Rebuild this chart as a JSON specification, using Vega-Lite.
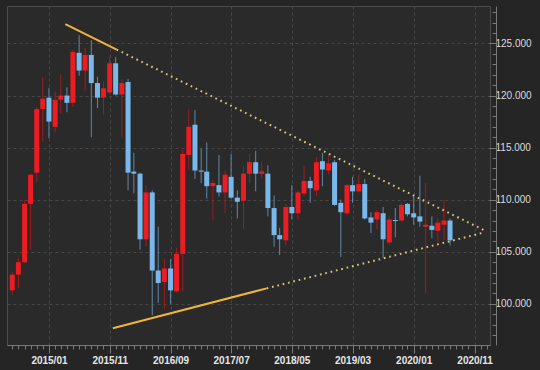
{
  "$schema": "https://vega.github.io/schema/vega-lite/v6.json",
  "width": 483,
  "height": 339,
  "autosize": {"type": "none"},
  "padding": {"left": 7, "top": 6, "right": 50, "bottom": 25},
  "background": "#252525",
  "config": {
    "view": {"fill": "#2a2a2a", "stroke": "#4c4c4c"},
    "axis": {"title": null, "labelFont": "Liberation Sans", "labelFontSize": 10, "labelColor": "#dcdcdc", "domainColor": "#7a7a7a", "tickColor": "#7a7a7a", "gridColor": "#474747", "gridDash": [3, 3], "labelOverlap": false, "labelFlush": false}
  },
  "datasets": {
    "candles": [
      {"d": "2014-07-01", "o": 101.3, "h": 103.1, "l": 100.9, "c": 102.8},
      {"d": "2014-08-01", "o": 102.8, "h": 104.4, "l": 101.5, "c": 104.0},
      {"d": "2014-09-01", "o": 104.0, "h": 110.0, "l": 103.9, "c": 109.6},
      {"d": "2014-10-01", "o": 109.6, "h": 112.5, "l": 105.2, "c": 112.4},
      {"d": "2014-11-01", "o": 112.6, "h": 118.9, "l": 111.7, "c": 118.7},
      {"d": "2014-12-01", "o": 118.7, "h": 121.8, "l": 115.6, "c": 119.7},
      {"d": "2015-01-01", "o": 119.8, "h": 120.7, "l": 115.9, "c": 117.5},
      {"d": "2015-02-01", "o": 117.0, "h": 120.4, "l": 116.5, "c": 119.6},
      {"d": "2015-03-01", "o": 119.6, "h": 122.0, "l": 118.3, "c": 120.0},
      {"d": "2015-04-01", "o": 120.0, "h": 120.8, "l": 118.4, "c": 119.3},
      {"d": "2015-05-01", "o": 119.3, "h": 124.4, "l": 118.9, "c": 124.2},
      {"d": "2015-06-01", "o": 124.1, "h": 125.8, "l": 121.9, "c": 122.4},
      {"d": "2015-07-01", "o": 122.4, "h": 124.6, "l": 120.4, "c": 123.9},
      {"d": "2015-08-01", "o": 123.9, "h": 125.3, "l": 116.0, "c": 121.2},
      {"d": "2015-09-01", "o": 121.2, "h": 121.8, "l": 118.8, "c": 119.8},
      {"d": "2015-10-01", "o": 119.8, "h": 121.4, "l": 118.1, "c": 120.7},
      {"d": "2015-11-01", "o": 120.3, "h": 123.7, "l": 120.1, "c": 123.1},
      {"d": "2015-12-01", "o": 123.1, "h": 123.7, "l": 120.0, "c": 120.1},
      {"d": "2016-01-01", "o": 120.1, "h": 121.6, "l": 115.9, "c": 121.2},
      {"d": "2016-02-01", "o": 121.3, "h": 121.6, "l": 110.9, "c": 112.6},
      {"d": "2016-03-01", "o": 112.7, "h": 114.5, "l": 110.6, "c": 112.5},
      {"d": "2016-04-01", "o": 112.5, "h": 112.6, "l": 105.2, "c": 106.2},
      {"d": "2016-05-01", "o": 106.2, "h": 111.4, "l": 105.5, "c": 110.7},
      {"d": "2016-06-01", "o": 110.7, "h": 110.9, "l": 98.9, "c": 103.2},
      {"d": "2016-07-01", "o": 103.2, "h": 107.4, "l": 100.1, "c": 102.0},
      {"d": "2016-08-01", "o": 102.1, "h": 104.3, "l": 99.5, "c": 103.4},
      {"d": "2016-09-01", "o": 103.4, "h": 104.3, "l": 100.0, "c": 101.3},
      {"d": "2016-10-01", "o": 101.2, "h": 105.4, "l": 101.1, "c": 104.8},
      {"d": "2016-11-01", "o": 104.8, "h": 114.8, "l": 101.2, "c": 114.4},
      {"d": "2016-12-01", "o": 114.3, "h": 118.7, "l": 112.8, "c": 117.0},
      {"d": "2017-01-01", "o": 117.2, "h": 118.6, "l": 112.0, "c": 112.8},
      {"d": "2017-02-01", "o": 112.8, "h": 114.9, "l": 111.6, "c": 112.7},
      {"d": "2017-03-01", "o": 112.7, "h": 115.5, "l": 110.1, "c": 111.3},
      {"d": "2017-04-01", "o": 111.3, "h": 111.9, "l": 108.0, "c": 111.6},
      {"d": "2017-05-01", "o": 111.4, "h": 114.3, "l": 110.3, "c": 110.7},
      {"d": "2017-06-01", "o": 110.7, "h": 112.8, "l": 108.7, "c": 112.4},
      {"d": "2017-07-01", "o": 112.2, "h": 114.4, "l": 110.1, "c": 110.2},
      {"d": "2017-08-01", "o": 110.2, "h": 110.9, "l": 108.2, "c": 109.8},
      {"d": "2017-09-01", "o": 109.9, "h": 113.2, "l": 107.2, "c": 112.5},
      {"d": "2017-10-01", "o": 112.5, "h": 114.4, "l": 111.6, "c": 113.6},
      {"d": "2017-11-01", "o": 113.6, "h": 114.7, "l": 110.8, "c": 112.5},
      {"d": "2017-12-01", "o": 112.5, "h": 113.6, "l": 112.0, "c": 112.7},
      {"d": "2018-01-01", "o": 112.5, "h": 113.3, "l": 108.4, "c": 109.2},
      {"d": "2018-02-01", "o": 109.2, "h": 110.4, "l": 105.5, "c": 106.6},
      {"d": "2018-03-01", "o": 106.6, "h": 107.3, "l": 104.7, "c": 106.2},
      {"d": "2018-04-01", "o": 106.1, "h": 109.6, "l": 105.6, "c": 109.3},
      {"d": "2018-05-01", "o": 109.3, "h": 111.4, "l": 108.1, "c": 108.7},
      {"d": "2018-06-01", "o": 108.7, "h": 110.9, "l": 108.1, "c": 110.7},
      {"d": "2018-07-01", "o": 110.6, "h": 113.2, "l": 110.3, "c": 111.8},
      {"d": "2018-08-01", "o": 111.8, "h": 112.2, "l": 109.7, "c": 111.1},
      {"d": "2018-09-01", "o": 110.9, "h": 114.1, "l": 110.4, "c": 113.6},
      {"d": "2018-10-01", "o": 113.7, "h": 114.5, "l": 111.3, "c": 112.9},
      {"d": "2018-11-01", "o": 112.8, "h": 114.3, "l": 112.4, "c": 113.5},
      {"d": "2018-12-01", "o": 113.6, "h": 113.8, "l": 109.4, "c": 109.5},
      {"d": "2019-01-01", "o": 109.7, "h": 110.0, "l": 104.5, "c": 108.8},
      {"d": "2019-02-01", "o": 108.7, "h": 111.5, "l": 108.5, "c": 111.4},
      {"d": "2019-03-01", "o": 111.4, "h": 112.2, "l": 109.7, "c": 110.8},
      {"d": "2019-04-01", "o": 110.8, "h": 112.4, "l": 110.7, "c": 111.5},
      {"d": "2019-05-01", "o": 111.5, "h": 112.0, "l": 108.1, "c": 108.2},
      {"d": "2019-06-01", "o": 108.3, "h": 108.8, "l": 106.8, "c": 107.8},
      {"d": "2019-07-01", "o": 108.1, "h": 109.0, "l": 107.2, "c": 108.8},
      {"d": "2019-08-01", "o": 108.7, "h": 109.3, "l": 104.4, "c": 106.2},
      {"d": "2019-09-01", "o": 105.9, "h": 108.4, "l": 105.7, "c": 108.1},
      {"d": "2019-10-01", "o": 108.05, "h": 109.2, "l": 106.4, "c": 107.95},
      {"d": "2019-11-01", "o": 108.0, "h": 109.7, "l": 107.9, "c": 109.5},
      {"d": "2019-12-01", "o": 109.6, "h": 109.7, "l": 108.4, "c": 108.6},
      {"d": "2020-01-01", "o": 108.7, "h": 110.3, "l": 107.6, "c": 108.3},
      {"d": "2020-02-01", "o": 108.4, "h": 112.3, "l": 107.4, "c": 107.9},
      {"d": "2020-03-01", "o": 107.4, "h": 111.6, "l": 101.0, "c": 107.6},
      {"d": "2020-04-01", "o": 107.5, "h": 108.4, "l": 106.3, "c": 107.1},
      {"d": "2020-05-01", "o": 107.0, "h": 108.2, "l": 105.9, "c": 107.8},
      {"d": "2020-06-01", "o": 107.6, "h": 110.0, "l": 106.1, "c": 108.0},
      {"d": "2020-07-01", "o": 108.0, "h": 108.2, "l": 105.6, "c": 106.1}
    ],
    "lines": [
      {"s": "upper", "t": "solid", "d": "2015-03-24", "v": 126.85},
      {"s": "upper", "t": "solid", "d": "2015-12-06", "v": 124.42},
      {"s": "upper", "t": "dotted", "d": "2015-12-06", "v": 124.42},
      {"s": "upper", "t": "dotted", "d": "2020-12-21", "v": 107.05},
      {"s": "lower", "t": "solid", "d": "2015-11-17", "v": 97.65},
      {"s": "lower", "t": "solid", "d": "2017-12-26", "v": 101.49},
      {"s": "lower", "t": "dotted", "d": "2017-12-26", "v": 101.49},
      {"s": "lower", "t": "dotted", "d": "2020-12-21", "v": 106.87}
    ]
  },
  "layer": [
    {
      "data": {"name": "candles"},
      "mark": {"type": "rule", "strokeWidth": 1, "clip": true},
      "encoding": {
        "x": {
          "field": "d", "type": "temporal",
          "scale": {"type": "utc", "domain": [{"year": 2014, "month": 6, "date": 30, "utc": true}, {"year": 2020, "month": 12, "date": 23, "utc": true}]},
          "axis": {
            "orient": "bottom", "format": "%Y/%m", "labelAngle": 0, "tickSize": 8, "labelPadding": 2, "grid": true, "labelFontWeight": "bold", "labelColor": "#e6e6e6",
            "values": [
              {"year": 2015, "month": 1, "date": 1, "utc": true},
              {"year": 2015, "month": 11, "date": 1, "utc": true},
              {"year": 2016, "month": 9, "date": 1, "utc": true},
              {"year": 2017, "month": 7, "date": 1, "utc": true},
              {"year": 2018, "month": 5, "date": 1, "utc": true},
              {"year": 2019, "month": 3, "date": 1, "utc": true},
              {"year": 2020, "month": 1, "date": 1, "utc": true},
              {"year": 2020, "month": 11, "date": 1, "utc": true}
            ]
          }
        },
        "y": {
          "field": "l", "type": "quantitative",
          "scale": {"domain": [96.05, 128.6], "nice": false, "zero": false},
          "axis": {"orient": "right", "values": [100, 105, 110, 115, 120, 125], "format": ".3f", "offset": 6, "tickSize": -7, "labelPadding": 6, "grid": true, "gridDash": [3, 3]}
        },
        "y2": {"field": "h"},
        "color": {"condition": {"test": "datum.c >= datum.o", "value": "#a01c1e"}, "value": "#5f89ad"}
      }
    },
    {
      "data": {"name": "candles"},
      "mark": {"type": "bar", "size": 5, "clip": true},
      "encoding": {
        "x": {"field": "d", "type": "temporal", "axis": null},
        "y": {"field": "o", "type": "quantitative", "axis": null},
        "y2": {"field": "c"},
        "color": {"condition": {"test": "datum.c >= datum.o", "value": "#ec1c22"}, "value": "#7ab8ec"}
      }
    },
    {
      "data": {"name": "lines"},
      "transform": [{"filter": "datum.t == 'solid'"}],
      "mark": {"type": "line", "strokeWidth": 2, "color": "#f0b43a", "clip": true},
      "encoding": {
        "x": {"field": "d", "type": "temporal", "axis": null},
        "y": {"field": "v", "type": "quantitative", "axis": null},
        "detail": {"field": "s"}
      }
    },
    {
      "data": {"name": "lines"},
      "transform": [{"filter": "datum.t == 'dotted'"}],
      "mark": {"type": "line", "strokeWidth": 2, "color": "#d8c47c", "strokeDash": [1.7, 3.8], "clip": true},
      "encoding": {
        "x": {"field": "d", "type": "temporal", "axis": null},
        "y": {"field": "v", "type": "quantitative", "axis": null},
        "detail": {"field": "s"}
      }
    },
    {
      "data": {"name": "candles"},
      "mark": {"type": "point", "opacity": 0},
      "encoding": {
        "x": {
          "field": "d", "type": "temporal",
          "axis": {"orient": "bottom", "tickCount": {"interval": "month", "step": 1}, "tickSize": 4, "labels": false, "grid": false, "domain": false}
        },
        "y": {
          "field": "c", "type": "quantitative",
          "axis": {"orient": "right", "offset": 6, "values": [97, 98, 99, 101, 102, 103, 104, 106, 107, 108, 109, 111, 112, 113, 114, 116, 117, 118, 119, 121, 122, 123, 124, 126, 127, 128], "tickSize": -4, "labels": false, "grid": false, "domain": false}
        }
      }
    }
  ],
  "resolve": {"axis": {"x": "independent", "y": "independent"}}
}
